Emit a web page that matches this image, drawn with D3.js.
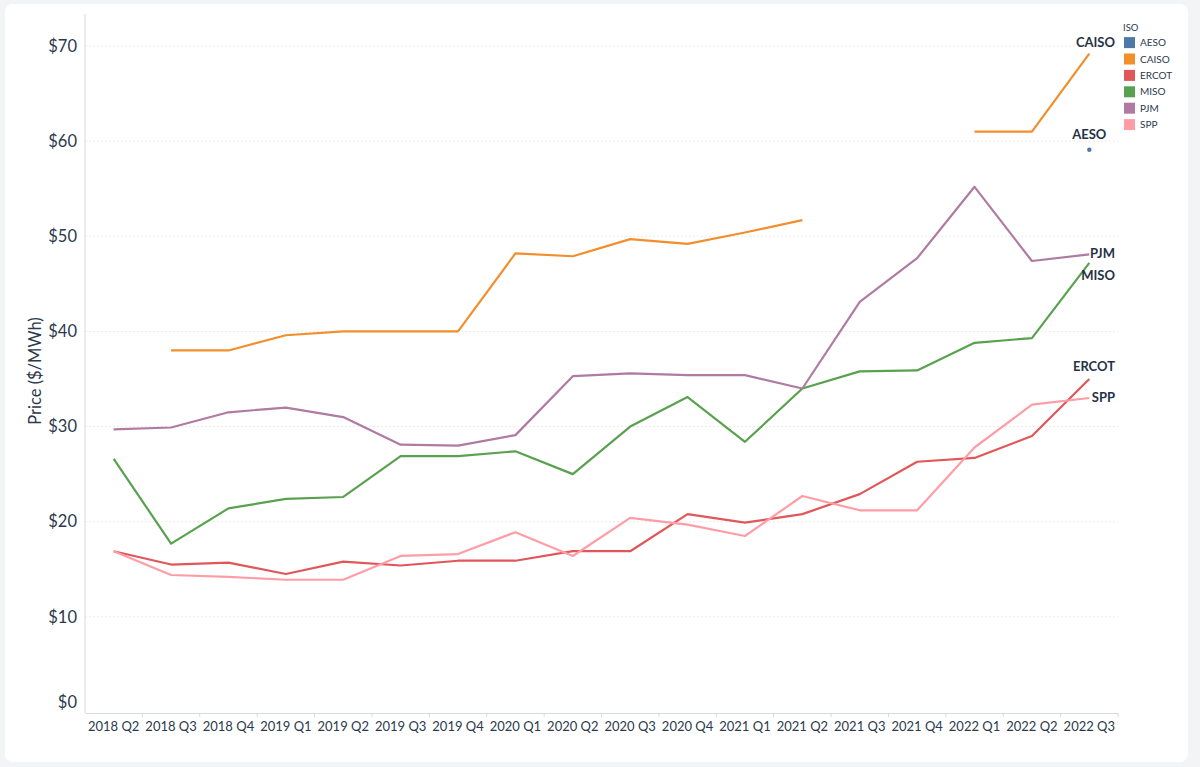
<!DOCTYPE html>
<html>
<head>
<meta charset="utf-8">
<script src="https://cdn.jsdelivr.net/npm/d3@7"></script>
<style>
  body { margin: 0; background: #f3f4f6; font-family: Lato, "Open Sans", sans-serif; }
  svg { display: block; }
</style>
</head>
<body>
<svg id="chart"></svg>
<script>
// quarters on the x axis
const quarters = ["2018 Q2", "2018 Q3", "2018 Q4", "2019 Q1", "2019 Q2", "2019 Q3", "2019 Q4",
  "2020 Q1", "2020 Q2", "2020 Q3", "2020 Q4", "2021 Q1", "2021 Q2", "2021 Q3", "2021 Q4",
  "2022 Q1", "2022 Q2", "2022 Q3"];

const isos = ["AESO", "CAISO", "ERCOT", "MISO", "PJM", "SPP"];
const colors = ["#4e79a7", "#f28e2b", "#e15759", "#59a14f", "#b07aa1", "#ff9da7"];

// prices in $/MWh, null = no data
const aeso  = [null, null, null, null, null, null, null, null, null, null, null, null, null, null, null, null, null, 59.1];
const caiso = [null, 38.0, 38.0, 39.6, 40.0, 40.0, 40.0, 48.2, 47.9, 49.7, 49.2, 50.4, 51.7, null, null, 61.0, 61.0, 69.2];
const ercot = [16.9, 15.5, 15.7, 14.5, 15.8, 15.4, 15.9, 15.9, 16.9, 16.9, 20.8, 19.9, 20.8, 22.9, 26.3, 26.7, 29.0, 35.0];
const miso  = [26.6, 17.7, 21.4, 22.4, 22.6, 26.9, 26.9, 27.4, 25.0, 30.0, 33.1, 28.4, 34.0, 35.8, 35.9, 38.8, 39.3, 47.2];
const pjm   = [29.7, 29.9, 31.5, 32.0, 31.0, 28.1, 28.0, 29.1, 35.3, 35.6, 35.4, 35.4, 34.0, 43.1, 47.7, 55.2, 47.4, 48.1];
const spp   = [16.9, 14.4, 14.2, 13.9, 13.9, 16.4, 16.6, 18.9, 16.4, 20.4, 19.7, 18.5, 22.7, 21.2, 21.2, 27.8, 32.3, 33.0];

const yTicks = [0, 10, 20, 30, 40, 50, 60, 70];

const seriesValues = [aeso, caiso, ercot, miso, pjm, spp];
const series = isos.map((name, i) => ({ name, color: colors[i], values: seriesValues[i] }));

const W = 1200, H = 767;
const m = { left: 85, right: 1118, top: 46, bottom: 712 };

const svg = d3.select("#chart").attr("width", W).attr("height", H);

// white card
svg.append("rect")
  .attr("x", 5).attr("y", 4).attr("width", 1183).attr("height", 758)
  .attr("rx", 8).attr("fill", "#ffffff");

const x = d3.scaleBand().domain(quarters).range([m.left, m.right]);
const y = d3.scaleLinear().domain([0, 70]).range([m.bottom, m.top]);
const xc = q => x(q) + x.bandwidth() / 2;

// grid
svg.append("g").selectAll("line").data(yTicks.filter(d => d > 0)).enter().append("line")
  .attr("x1", m.left).attr("x2", m.right)
  .attr("y1", d => y(d)).attr("y2", d => y(d))
  .attr("stroke", "#ebebeb").attr("stroke-width", 1).attr("stroke-dasharray", "2,2");

// y axis
const yAxis = svg.append("g")
  .attr("transform", `translate(${m.left},0)`)
  .call(d3.axisLeft(y).tickValues(yTicks).tickFormat(d => "$" + d).tickSize(0).tickPadding(8));
yAxis.select(".domain").remove();
yAxis.selectAll("text")
  .attr("font-family", "Lato, sans-serif").attr("font-size", 16.5).attr("fill", "#2b394c")
  .attr("dy", d => d === 0 ? "-0.25em" : "0.32em");

svg.append("line")
  .attr("x1", m.left).attr("x2", m.left).attr("y1", 14).attr("y2", m.bottom + 1)
  .attr("stroke", "#d3dae4").attr("stroke-width", 1);

svg.append("text")
  .attr("transform", "translate(41,371) rotate(-90)")
  .attr("text-anchor", "middle")
  .attr("font-family", "Lato, sans-serif").attr("font-size", 16.5).attr("fill", "#2b394c")
  .text("Price ($/MWh)");

// x axis
const xAxis = svg.append("g")
  .attr("transform", `translate(0,${m.bottom + 1})`)
  .call(d3.axisBottom(x).tickSize(0).tickPadding(9));
xAxis.select(".domain").attr("stroke", "#d3dae4");
xAxis.selectAll("text")
  .attr("font-family", "Lato, sans-serif").attr("font-size", 13).attr("fill", "#2b394c");

// band separators
svg.append("g").selectAll("line").data(quarters.slice(1).concat(["end"])).enter().append("line")
  .attr("x1", d => d === "end" ? m.right : x(d)).attr("x2", d => d === "end" ? m.right : x(d))
  .attr("y1", m.bottom + 1).attr("y2", m.bottom + 5)
  .attr("stroke", "#d3dae4");

// lines
const line = d3.line()
  .defined(d => d.v !== null)
  .x(d => xc(d.q))
  .y(d => y(d.v));

series.forEach(s => {
  const pts = s.values.map((v, i) => ({ q: quarters[i], v }));
  svg.append("path")
    .datum(pts)
    .attr("d", line)
    .attr("fill", "none")
    .attr("stroke", s.color)
    .attr("stroke-width", 2.2)
    .attr("stroke-linejoin", "round");

  const valid = pts.filter(d => d.v !== null);
  if (valid.length === 1) {
    svg.append("circle")
      .attr("cx", xc(valid[0].q)).attr("cy", y(valid[0].v)).attr("r", 2.2)
      .attr("fill", s.color);
  }
});

// end labels
const labelDy = { AESO: -11, CAISO: -7, ERCOT: -8, MISO: 17, PJM: 4, SPP: 4 };
series.forEach(s => {
  const i = s.values.length - 1;
  const v = s.values[i];
  const single = s.values.filter(d => d !== null).length === 1;
  svg.append("text")
    .attr("x", single ? xc(quarters[i]) : 1115)
    .attr("y", y(v) + labelDy[s.name])
    .attr("text-anchor", single ? "middle" : "end")
    .attr("font-family", "Lato, sans-serif").attr("font-size", 13).attr("font-weight", "bold")
    .attr("fill", "#253246")
    .text(s.name);
});

// legend
const legend = svg.append("g").attr("transform", "translate(1123,0)");
legend.append("text").attr("x", 0).attr("y", 31)
  .attr("font-family", "Lato, sans-serif").attr("font-size", 9.5).attr("fill", "#2b394c")
  .text("ISO");
const items = legend.selectAll("g.item").data(series).enter().append("g")
  .attr("transform", (d, i) => `translate(0,${42.6 + i * 16.4})`);
items.append("rect").attr("x", 1).attr("y", -5.5).attr("width", 11).attr("height", 11)
  .attr("fill", d => d.color);
items.append("text").attr("x", 17).attr("y", 3.6)
  .attr("font-family", "Lato, sans-serif").attr("font-size", 10).attr("fill", "#2b394c")
  .text(d => d.name);
</script>
</body>
</html>
